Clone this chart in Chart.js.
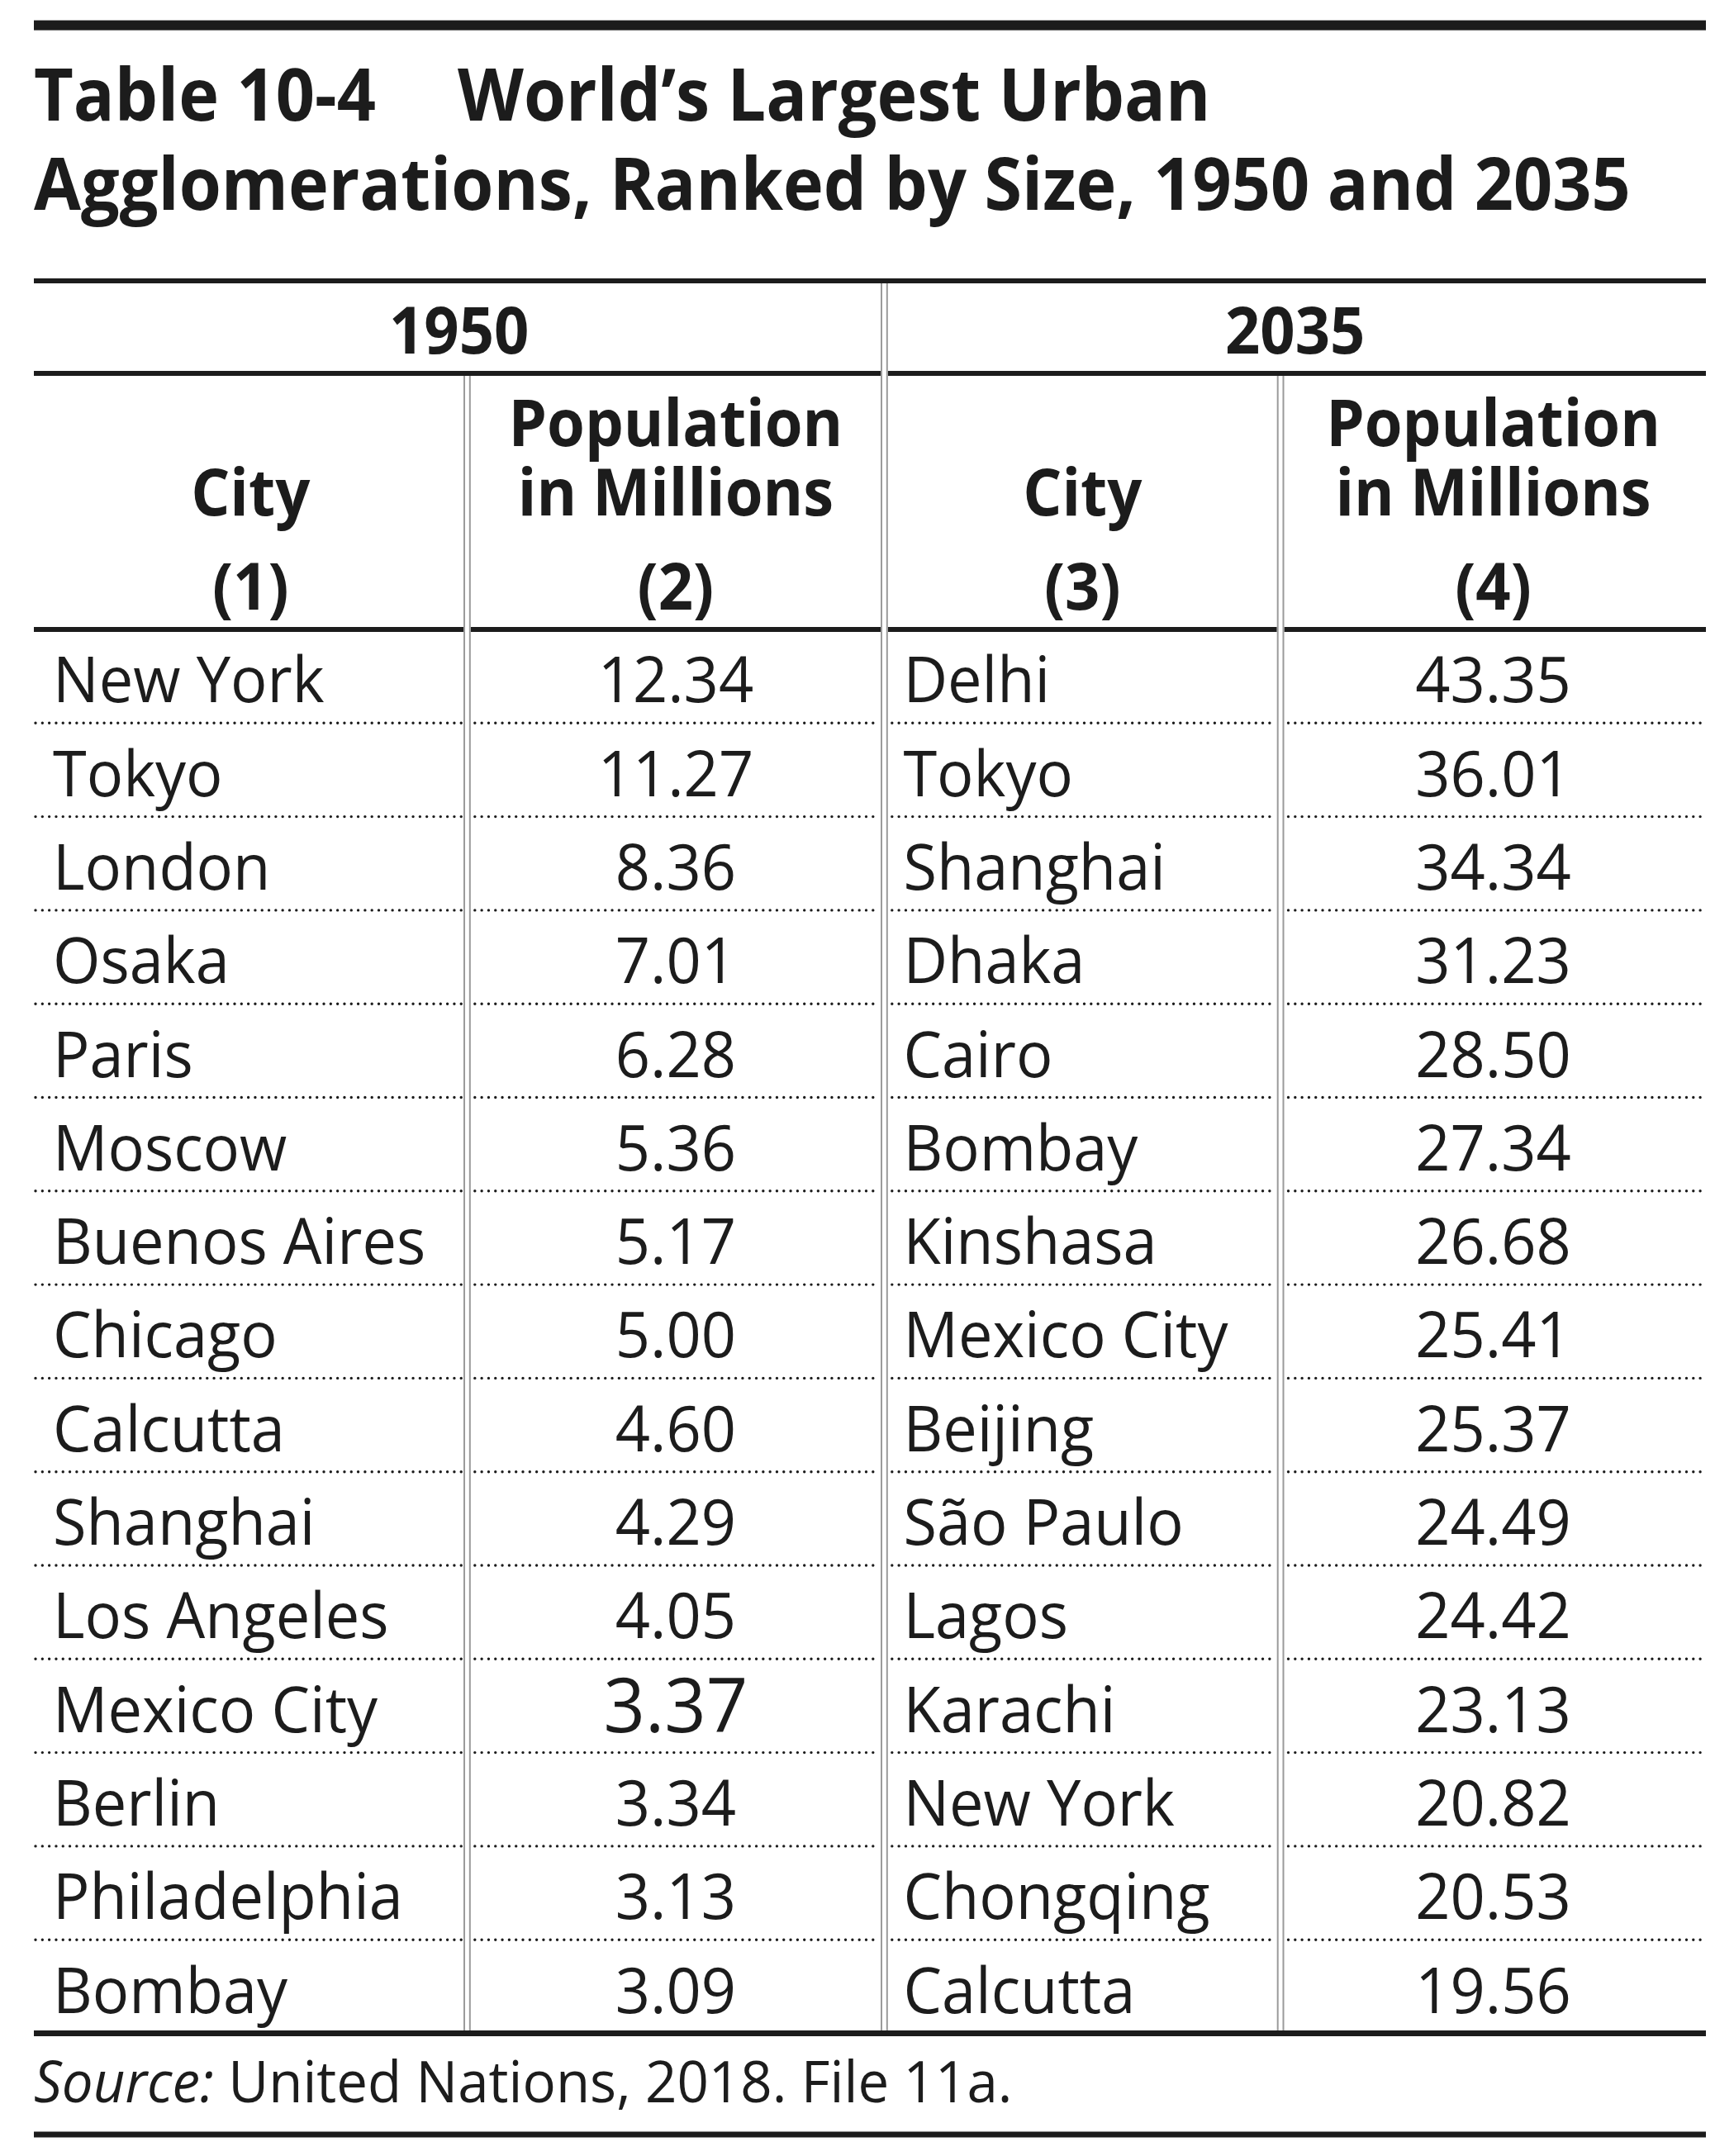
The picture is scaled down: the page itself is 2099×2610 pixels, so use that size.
<!DOCTYPE html>
<html>
<head>
<meta charset="utf-8">
<title>Table 10-4 World’s Largest Urban Agglomerations</title>
<script src="https://cdn.jsdelivr.net/npm/chart.js@4/dist/chart.umd.min.js"></script>
<style>
  html, body { margin: 0; padding: 0; background: #ffffff; }
  #wrap { width: 2099px; height: 2610px; position: relative; }
</style>
</head>
<body>
<div id="wrap"><canvas id="c"></canvas></div>
<script>
// ---------------- DATA ----------------
const ranks = [1, 2, 3, 4, 5, 6, 7, 8, 9, 10, 11, 12, 13, 14, 15];
const cities1950 = ['New York', 'Tokyo', 'London', 'Osaka', 'Paris', 'Moscow', 'Buenos Aires', 'Chicago',
  'Calcutta', 'Shanghai', 'Los Angeles', 'Mexico City', 'Berlin', 'Philadelphia', 'Bombay'];
const pop1950 = [12.34, 11.27, 8.36, 7.01, 6.28, 5.36, 5.17, 5.00, 4.60, 4.29, 4.05, 3.37, 3.34, 3.13, 3.09];
const cities2035 = ['Delhi', 'Tokyo', 'Shanghai', 'Dhaka', 'Cairo', 'Bombay', 'Kinshasa', 'Mexico City',
  'Beijing', 'São Paulo', 'Lagos', 'Karachi', 'New York', 'Chongqing', 'Calcutta'];
const pop2035 = [43.35, 36.01, 34.34, 31.23, 28.50, 27.34, 26.68, 25.41, 25.37, 24.49, 24.42, 23.13, 20.82, 20.53, 19.56];
const yearLabels = ['1950', '2035'];
const columnHeads = [['City'], ['Population', 'in Millions'], ['City'], ['Population', 'in Millions']];
const columnNumbers = ['(1)', '(2)', '(3)', '(4)'];
const titleNumber = 'Table 10-4';
const titleLines = ['World’s Largest Urban', 'Agglomerations, Ranked by Size, 1950 and 2035'];
const sourceLabel = 'Source:';
const sourceText = ' United Nations, 2018. File 11a.';

// ---------------- LAYOUT / STYLE ----------------
const FAMILY = '"Open Sans", "Noto Sans", "DejaVu Sans", sans-serif';
const INK = '#1c1c1c';
const RULE_GRAY = '#9b9b9b';
const style = {
  colEdges: [0, 0.2591, 0.5086, 0.7456, 1],   // fractions of the table width
  regSize: 77, regSX: 0.96,
  boldSX: 0.95, titleSize: 87, headSize: 78,
  sourceSize: 70,
  emphasis: { dataset: 1, index: 11, factor: 1.2 },
  cellPad: 23,
  baselineFromRowBottom: 25,
  topRule: { y: 30.6, w: 12 },
  titleBase: [146, 254], titleGapX: 554,
  yearRule: { y: 340, w: 6 },
  yearBase: 428,
  subRule: { y: 452, w: 6 },
  headBase: [540, 623.5, 738],
  headRule: { y: 762, w: 6 },
  bottomRule: { y: 2461.5, w: 7 },
  sourceBase: 2545,
  endRule: { y: 2584, w: 7 },
  dblHalf: 3.4
};

function drawText(ctx, text, x, y, font, align, sx) {
  ctx.save();
  ctx.font = font;
  ctx.textAlign = align;
  ctx.textBaseline = 'alphabetic';
  ctx.translate(x, y);
  ctx.scale(sx, 1);
  ctx.fillText(text, 0, 0);
  ctx.restore();
}
function textWidth(ctx, text, font, sx) {
  ctx.save(); ctx.font = font; const w = ctx.measureText(text).width * sx; ctx.restore(); return w;
}
function hRule(ctx, x1, x2, y, w) {
  ctx.fillRect(x1, y - w / 2, x2 - x1, w);
}

const tablePlugin = {
  id: 'tablePlugin',
  afterDatasetsDraw(chart) {
    const { ctx, scales: { x, y } } = chart;
    const X = v => x.getPixelForValue(v);
    const E = style.colEdges.map(X);
    const L = E[0], R = E[4];
    const regFont = `${style.regSize}px ${FAMILY}`;
    const boldTitle = `bold ${style.titleSize}px ${FAMILY}`;
    const boldHead = `bold ${style.headSize}px ${FAMILY}`;
    const h = style.dblHalf;
    ctx.save();
    ctx.fillStyle = INK;

    // top rule + title
    hRule(ctx, L, R, style.topRule.y, style.topRule.w);
    drawText(ctx, titleNumber, L, style.titleBase[0], boldTitle, 'left', style.boldSX);
    drawText(ctx, titleLines[0], style.titleGapX, style.titleBase[0], boldTitle, 'left', style.boldSX);
    drawText(ctx, titleLines[1], L, style.titleBase[1], boldTitle, 'left', style.boldSX);

    // year header
    hRule(ctx, L, R, style.yearRule.y, style.yearRule.w);
    drawText(ctx, yearLabels[0], (E[0] + E[2]) / 2, style.yearBase, boldHead, 'center', style.boldSX);
    drawText(ctx, yearLabels[1], (E[2] + E[4]) / 2, style.yearBase, boldHead, 'center', style.boldSX);
    hRule(ctx, L, E[2] - h - 1, style.subRule.y, style.subRule.w);
    hRule(ctx, E[2] + h + 1, R, style.subRule.y, style.subRule.w);

    // column headers
    for (let c = 0; c < 4; c++) {
      const cx = (E[c] + E[c + 1]) / 2;
      const lines = columnHeads[c];
      const start = 2 - lines.length;
      lines.forEach((t, k) => drawText(ctx, t, cx, style.headBase[start + k], boldHead, 'center', style.boldSX));
      drawText(ctx, columnNumbers[c], cx, style.headBase[2], boldHead, 'center', style.boldSX);
    }
    const hrSegs = [[L, E[1] - h - 1], [E[1] + h + 1, E[2] - h - 1], [E[2] + h + 1, E[3] - h - 1], [E[3] + h + 1, R]];
    hrSegs.forEach(s => hRule(ctx, s[0], s[1], style.headRule.y, style.headRule.w));

    // dotted row separators
    ctx.save();
    ctx.strokeStyle = INK;
    ctx.lineWidth = 3.4;
    ctx.lineCap = 'round';
    ctx.setLineDash([0.01, 8.3]);
    for (let k = 0; k < ranks.length - 1; k++) {
      const yy = y.getPixelForValue(k + 0.5);
      for (let c = 0; c < 4; c++) {
        const a = (c === 0 ? L : E[c] + h + 4) + 2;
        const b = (c === 3 ? R : E[c + 1] - h - 3);
        ctx.beginPath(); ctx.moveTo(a, yy); ctx.lineTo(b, yy); ctx.stroke();
      }
    }
    ctx.restore();

    // cell texts from dataset elements
    chart.data.datasets.forEach((ds, di) => {
      const meta = chart.getDatasetMeta(di);
      meta.data.forEach((el, i) => {
        const base = y.getPixelForValue(i + 0.5) - style.baselineFromRowBottom;
        let font = regFont;
        if (style.emphasis.dataset === di && style.emphasis.index === i) {
          font = `${Math.round(style.regSize * style.emphasis.factor)}px ${FAMILY}`;
        }
        if (ds.cellAlign === 'left') {
          drawText(ctx, ds.cellText[i], el.x + style.cellPad, base, font, 'left', style.regSX);
        } else {
          drawText(ctx, ds.cellText[i], el.x, base, font, 'center', style.regSX);
        }
      });
    });

    // double vertical lines
    ctx.fillStyle = RULE_GRAY;
    const bottomY = style.bottomRule.y - style.bottomRule.w / 2;
    const vline = (xc, y1) => {
      ctx.fillRect(xc - h - 1, y1, 2, bottomY - y1);
      ctx.fillRect(xc + h - 1, y1, 2, bottomY - y1);
    };
    vline(E[2], style.yearRule.y + style.yearRule.w / 2);
    vline(E[1], style.subRule.y + style.subRule.w / 2);
    vline(E[3], style.subRule.y + style.subRule.w / 2);

    // bottom rules and source
    ctx.fillStyle = INK;
    hRule(ctx, L, R, style.bottomRule.y, style.bottomRule.w);
    const itFont = `italic ${style.sourceSize}px ${FAMILY}`;
    const srcFont = `${style.sourceSize}px ${FAMILY}`;
    drawText(ctx, sourceLabel, L, style.sourceBase, itFont, 'left', style.regSX);
    const wIt = textWidth(ctx, sourceLabel, itFont, style.regSX);
    drawText(ctx, sourceText, L + wIt, style.sourceBase, srcFont, 'left', style.regSX);
    hRule(ctx, L, R, style.endRule.y, style.endRule.w);
    ctx.restore();
  }
};

function build() {
  const E = style.colEdges;
  const mk = (label, texts, col, align) => ({
    label,
    cellText: texts,
    cellAlign: align,
    data: ranks.map((r, i) => ({ x: align === 'left' ? E[col] : (E[col] + E[col + 1]) / 2, y: i })),
    pointRadius: 0, pointHoverRadius: 0, showLine: false
  });
  new Chart(document.getElementById('c'), {
    type: 'scatter',
    data: {
      datasets: [
        mk('City (1950)', cities1950, 0, 'left'),
        mk('Population in Millions (1950)', pop1950.map(v => v.toFixed(2)), 1, 'center'),
        mk('City (2035)', cities2035, 2, 'left'),
        mk('Population in Millions (2035)', pop2035.map(v => v.toFixed(2)), 3, 'center')
      ]
    },
    options: {
      responsive: true,
      maintainAspectRatio: false,
      animation: false,
      devicePixelRatio: 1,
      events: [],
      layout: { padding: { left: 41, right: 34, top: 762, bottom: 148.5 } },
      scales: {
        x: { type: 'linear', min: 0, max: 1, display: false },
        y: { type: 'linear', min: -0.5, max: ranks.length - 0.5, reverse: true, display: false }
      },
      plugins: { legend: { display: false }, tooltip: { enabled: false }, title: { display: false } }
    },
    plugins: [tablePlugin]
  });
}

const fontLoads = [
  `${style.regSize}px ${FAMILY}`, `bold ${style.titleSize}px ${FAMILY}`, `italic ${style.sourceSize}px ${FAMILY}`
].map(f => document.fonts.load(f).catch(() => null));
Promise.all(fontLoads).then(build, build);
</script>
</body>
</html>
